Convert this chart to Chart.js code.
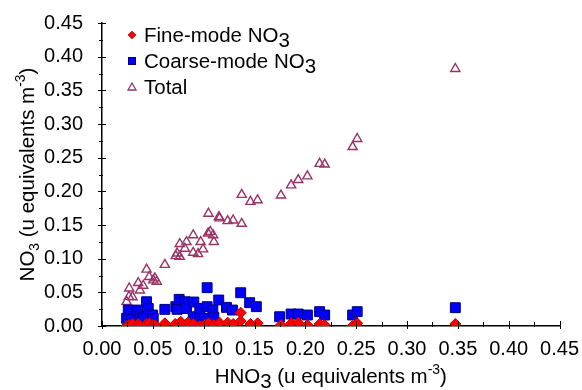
<!DOCTYPE html>
<html><head><meta charset="utf-8">
<script src="https://cdn.jsdelivr.net/npm/chart.js@4/dist/chart.umd.min.js"></script>
<style>html,body{margin:0;padding:0;background:#fff}</style>
</head><body>
<canvas id="c" width="582" height="390"></canvas>
<script>
// ---- data ----
const axisTicks = [0.00,0.05,0.10,0.15,0.20,0.25,0.30,0.35,0.40,0.45];
const seriesNames = ['Fine-mode NO3','Coarse-mode NO3','Total'];

const fineX = [0.0242,0.0265,0.030,0.0356,0.0374,0.0438,0.0465,0.050,0.052,0.0618,0.072,0.0763,0.0774,0.083,0.0847,0.090,0.0962,0.101,0.1047,0.110,0.1156,0.1236,0.129,0.1364,0.1364,0.146,0.153,0.176,0.186,0.193,0.202,0.214,0.219,0.2465,0.251,0.3475];
const fineY = [0.000,0.0015,0.003,0.003,0.000,0.003,0.004,0.0015,0.0015,0.004,0.003,0.000,0.0064,0.003,0.005,0.003,0.000,0.002,0.004,0.0015,0.005,0.005,0.003,0.0198,0.0074,0.003,0.004,0.0015,0.004,0.005,0.0015,0.003,0.0015,0.000,0.004,0.003];

const coarseX = [0.0242,0.0258,0.029,0.035,0.0373,0.0405,0.0438,0.0455,0.0497,0.0504,0.0618,0.0726,0.0739,0.0759,0.0815,0.0831,0.0903,0.0897,0.0962,0.0962,0.101,0.1034,0.1034,0.109,0.110,0.1148,0.1224,0.1283,0.1364,0.1452,0.1518,0.1747,0.186,0.193,0.202,0.214,0.219,0.2465,0.251,0.3475];
const coarseY = [0.0114,0.0237,0.0104,0.0237,0.0138,0.0114,0.036,0.026,0.0163,0.0114,0.0247,0.0287,0.0247,0.0396,0.036,0.026,0.0356,0.0138,0.026,0.0114,0.0114,0.0569,0.0287,0.0237,0.0129,0.0386,0.0277,0.0237,0.0494,0.0346,0.0287,0.0138,0.0178,0.0178,0.0163,0.0213,0.0163,0.0163,0.0213,0.0272];

const totalX = [0.0242,0.0265,0.030,0.0268,0.0356,0.0373,0.0405,0.0438,0.0464,0.0504,0.052,0.0538,0.0618,0.0726,0.0739,0.0765,0.0765,0.0815,0.0831,0.0897,0.0897,0.0945,0.097,0.0994,0.1043,0.1047,0.1065,0.1093,0.110,0.115,0.1156,0.1236,0.129,0.1374,0.1374,0.146,0.153,0.176,0.186,0.193,0.202,0.214,0.219,0.2465,0.251,0.3475];
const totalY = [0.036,0.0435,0.043,0.056,0.064,0.053,0.060,0.084,0.073,0.068,0.071,0.066,0.091,0.104,0.108,0.103,0.122,0.115,0.125,0.135,0.109,0.107,0.125,0.114,0.1375,0.167,0.140,0.135,0.125,0.162,0.160,0.156,0.157,0.195,0.152,0.1845,0.187,0.194,0.209,0.217,0.2225,0.241,0.240,0.266,0.278,0.382];

const pts = (xs, ys) => xs.map((x, i) => ({x, y: ys[i]}));

const FONT = "'Liberation Sans', Arial, sans-serif";
const COL_FINE = '#ff0000', COL_FINE_B = '#c00000';
const COL_COARSE = '#0000ff', COL_COARSE_B = '#00007a';
const COL_TOTAL = '#993366';

function richText(ctx, parts, size) {
  let w = 0;
  const items = parts.map(p => {
    let fs = size, dy = 0;
    if (p.mode === 'sub') { dy = size * 0.22; }
    if (p.mode === 'ssub') { fs = size * 0.68; dy = size * 0.25; }
    if (p.mode === 'sup') { fs = size * 0.68; dy = -size * 0.42; }
    ctx.font = fs + 'px ' + FONT;
    const tw = ctx.measureText(p.t).width;
    const it = {t: p.t, fs, dy, x: w};
    w += tw;
    return it;
  });
  return {items, width: w};
}
function drawRich(ctx, parts, size, x, y, align) {
  const r = richText(ctx, parts, size);
  const x0 = align === 'center' ? x - r.width / 2 : x;
  ctx.textBaseline = 'alphabetic';
  ctx.textAlign = 'left';
  r.items.forEach(it => {
    ctx.font = it.fs + 'px ' + FONT;
    ctx.fillText(it.t, x0 + it.x, y + it.dy);
  });
}

const decor = {
  id: 'decor',
  afterDraw(chart) {
    const ctx = chart.ctx;
    const xs = chart.scales.x, ys = chart.scales.y;
    const area = chart.chartArea;
    ctx.save();
    ctx.strokeStyle = '#000';
    ctx.lineWidth = 1;
    for (let i = 0; i <= 18; i++) {
      const v = i * 0.025;
      const major = i % 2 === 0;
      const px = Math.round(xs.getPixelForValue(v)) + 0.5;
      ctx.beginPath();
      ctx.moveTo(px, area.bottom - (major ? 5 : 4));
      ctx.lineTo(px, area.bottom + (major ? 3 : 1));
      ctx.stroke();
      const py = Math.round(ys.getPixelForValue(v)) + 0.5;
      ctx.beginPath();
      ctx.moveTo(area.left - (major ? 4 : 3), py);
      ctx.lineTo(area.left + (major ? 4 : 1), py);
      ctx.stroke();
    }
    ctx.fillStyle = '#000';
    drawRich(ctx, [{t:'HNO'},{t:'3',mode:'sub'},{t:' (u equivalents m'},{t:'-3',mode:'sup'},{t:')'}], 20.5, (area.left + area.right) / 2, 383, 'center');
    ctx.save();
    ctx.translate(34, (area.top + area.bottom) / 2);
    ctx.rotate(-Math.PI / 2);
    drawRich(ctx, [{t:'NO'},{t:'3',mode:'ssub'},{t:' (u equivalents m'},{t:'-3',mode:'sup'},{t:')'}], 20.5, 0, 0, 'center');
    ctx.restore();
    const lx = 132, tx = 144, rows = [35, 61, 87];
    ctx.fillStyle = COL_FINE; ctx.strokeStyle = COL_FINE_B;
    ctx.beginPath();
    ctx.moveTo(lx, rows[0] - 3.8); ctx.lineTo(lx + 3.8, rows[0]); ctx.lineTo(lx, rows[0] + 3.8); ctx.lineTo(lx - 3.8, rows[0]); ctx.closePath();
    ctx.fill(); ctx.stroke();
    ctx.fillStyle = COL_COARSE; ctx.strokeStyle = COL_COARSE_B;
    ctx.fillRect(lx - 3.5, rows[1] - 3.5, 7, 7);
    ctx.strokeRect(lx - 3.5, rows[1] - 3.5, 7, 7);
    ctx.strokeStyle = COL_TOTAL; ctx.lineWidth = 1.3;
    ctx.beginPath();
    ctx.moveTo(lx, rows[2] - 4); ctx.lineTo(lx + 4, rows[2] + 3); ctx.lineTo(lx - 4, rows[2] + 3); ctx.closePath();
    ctx.stroke();
    ctx.fillStyle = '#000';
    drawRich(ctx, [{t:'Fine-mode NO'},{t:'3',mode:'sub'}], 20.5, tx, rows[0] + 7, 'left');
    drawRich(ctx, [{t:'Coarse-mode NO'},{t:'3',mode:'sub'}], 20.5, tx, rows[1] + 7, 'left');
    drawRich(ctx, [{t:'Total'}], 20.5, tx, rows[2] + 7, 'left');
    ctx.restore();
  }
};

new Chart(document.getElementById('c'), {
  type: 'scatter',
  data: {
    datasets: [
      {label: seriesNames[0], data: pts(fineX, fineY), pointStyle: 'rectRot', pointRadius: 5.5, backgroundColor: COL_FINE, borderColor: COL_FINE_B, borderWidth: 1},
      {label: seriesNames[1], data: pts(coarseX, coarseY), pointStyle: 'rect', pointRadius: 7, backgroundColor: COL_COARSE, borderColor: COL_COARSE_B, borderWidth: 1},
      {label: seriesNames[2], data: pts(totalX, totalY), pointStyle: 'triangle', pointRadius: 5.3, backgroundColor: 'rgba(0,0,0,0)', borderColor: COL_TOTAL, borderWidth: 1.4}
    ]
  },
  options: {
    responsive: false,
    animation: false,
    devicePixelRatio: 1,
    layout: {padding: {left: 0, right: 21, top: 23, bottom: 0}},
    plugins: {legend: {display: false}, tooltip: {enabled: false}},
    scales: {
      x: {
        type: 'linear', min: 0, max: 0.45,
        afterFit: s => { s.height = 64; },
        afterBuildTicks: s => { s.ticks = axisTicks.map(v => ({value: v})); },
        grid: {display: false},
        border: {display: true, color: '#000', width: 1.5},
        ticks: {color: '#000', font: {family: FONT, size: 20}, padding: 3, maxRotation: 0, autoSkip: false, callback: v => v.toFixed(2)}
      },
      y: {
        type: 'linear', min: 0, max: 0.45,
        afterFit: s => { s.width = 102; },
        afterBuildTicks: s => { s.ticks = axisTicks.map(v => ({value: v})); },
        grid: {display: false},
        border: {display: true, color: '#000', width: 1.5},
        ticks: {color: '#000', font: {family: FONT, size: 20}, padding: 11, autoSkip: false, callback: v => v.toFixed(2)}
      }
    }
  },
  plugins: [decor]
});
</script>
</body></html>
